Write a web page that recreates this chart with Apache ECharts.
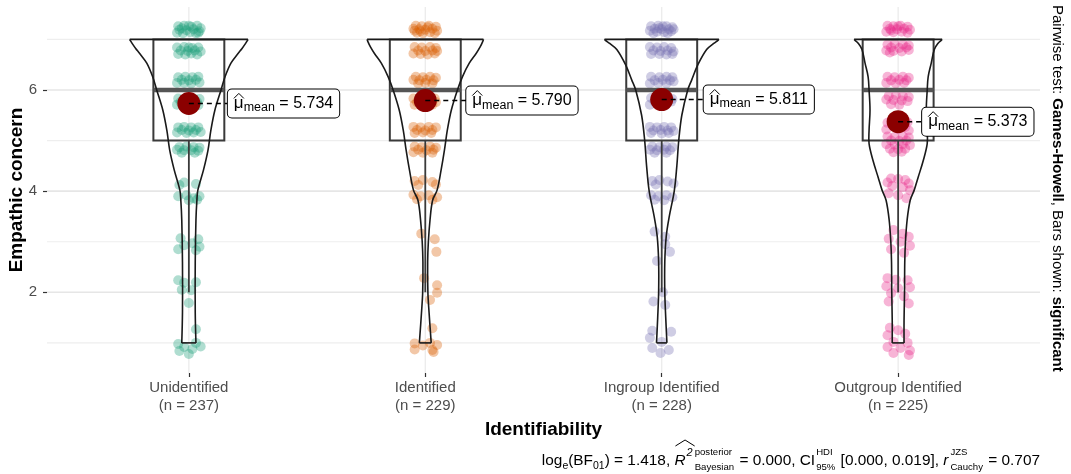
<!DOCTYPE html>
<html><head><meta charset="utf-8">
<script src="https://cdn.jsdelivr.net/npm/echarts@6/dist/echarts.min.js"></script>
<style>html,body{margin:0;padding:0;background:#fff}#c{width:1071px;height:474px}</style>
</head><body><div id="c"></div>
<script>
// ---------------- data ----------------
const categories = ['Unidentified', 'Identified', 'Ingroup Identified', 'Outgroup Identified'];
const sampleSizes = [237, 229, 228, 225];
const groupColors = ['#1B9E77', '#D95F02', '#7570B3', '#E7298A'];
const means = [5.734, 5.790, 5.811, 5.373];
const q1 = [5, 5, 5, 5];
const medians = [6, 6, 6, 6];
const q3 = [7, 7, 7, 7];
const whiskerLow = [2, 2, 2, 2];
const whiskerHigh = [7, 7, 7, 7];
const yTicks = [2, 4, 6];
const yMinorGrid = [1, 3, 5, 7];

// violin profiles: [value, half-width in category units], bottom -> top
const violinUnidentified = [[1.0,0.030],[1.6,0.027],[2.6,0.027],[3.43,0.030],[3.82,0.034],[4.02,0.038],[4.42,0.062],[4.81,0.081],[5.2,0.093],[5.6,0.110],[6.0,0.136],[6.26,0.153],[6.53,0.178],[6.72,0.208],[6.82,0.225],[6.92,0.240],[6.98,0.248],[7.0,0.250]];
const violinIdentified = [[1.0,0.025],[1.6,0.016],[2.0,0.011],[2.6,0.010],[3.0,0.013],[3.43,0.020],[3.82,0.031],[4.02,0.050],[4.42,0.067],[4.81,0.081],[5.2,0.093],[5.6,0.110],[6.0,0.136],[6.26,0.157],[6.53,0.186],[6.72,0.215],[6.85,0.232],[6.97,0.244],[7.0,0.246]];
const violinIngroup = [[1.0,0.022],[1.5,0.017],[2.0,0.013],[2.6,0.013],[3.1,0.019],[3.5,0.032],[4.0,0.053],[4.5,0.064],[5.0,0.072],[5.5,0.085],[6.0,0.110],[6.2,0.127],[6.5,0.153],[6.8,0.190],[6.92,0.220],[6.98,0.238],[7.0,0.242]];
const violinOutgroup = [[1.0,0.025],[1.45,0.025],[2.0,0.027],[2.6,0.028],[3.0,0.031],[3.43,0.038],[3.82,0.051],[4.02,0.068],[4.28,0.085],[4.6,0.106],[4.94,0.123],[5.2,0.123],[5.6,0.119],[6.0,0.123],[6.26,0.127],[6.53,0.140],[6.8,0.153],[6.93,0.170],[6.98,0.182],[7.0,0.186]];

// jittered points: [x offset from category (units), value]
const pointsUnidentified = [
 [-0.045,7.26],[-0.02,7.27],[0.01,7.25],[0.035,7.27],[0.05,7.22],[-0.04,7.19],[-0.01,7.18],[0.02,7.2],[0.045,7.16],[-0.05,7.13],[-0.025,7.12],[0.005,7.14],[0.03,7.12],[0.0,7.27],[-0.03,7.22],[0.04,7.13],
 [-0.05,6.84],[-0.02,6.85],[0.015,6.83],[0.04,6.84],[-0.035,6.78],[-0.005,6.77],[0.025,6.78],[0.05,6.76],[-0.045,6.71],[-0.015,6.70],[0.01,6.72],[0.035,6.70],[0.0,6.84],
 [-0.045,6.25],[-0.015,6.26],[0.015,6.25],[0.04,6.26],[-0.03,6.2],[0.0,6.19],[0.03,6.2],[-0.05,6.14],[-0.02,6.14],[0.01,6.13],[0.045,6.15],
 [-0.045,5.83],[-0.015,5.84],[0.02,5.83],[0.045,5.82],[-0.035,5.76],[0.035,5.76],[-0.05,5.71],[0.0,5.72],[0.04,5.7],
 [-0.045,5.26],[-0.02,5.27],[0.01,5.26],[0.04,5.26],[-0.03,5.21],[0.0,5.2],[0.03,5.21],[-0.05,5.16],[-0.01,5.15],[0.02,5.16],[0.05,5.17],
 [-0.04,4.87],[-0.01,4.88],[0.02,4.87],[0.045,4.86],[-0.05,4.82],[-0.02,4.81],[0.01,4.81],[0.04,4.8],[-0.03,4.76],[0.025,4.76],
 [-0.02,4.17],[0.03,4.14],[-0.04,4.12],
 [-0.045,3.9],[-0.01,3.92],[0.02,3.86],[0.045,3.9],[0.0,3.82],[0.035,3.83],
 [-0.035,3.07],[0.04,3.05],[0.015,2.97],[-0.02,2.93],[0.045,2.9],[-0.045,2.85],[0.03,2.83],
 [-0.045,2.24],[-0.02,2.19],[0.03,2.2],[-0.03,2.05],[0.01,2.04],
 [0.0,1.79],[0.03,1.27],
 [-0.045,0.98],[0.03,1.0],[0.05,0.93],[-0.02,0.92],[0.015,0.88],[-0.04,0.84],[0.0,0.78]
];
const pointsIdentified = [
 [-0.04,7.27],[-0.015,7.26],[0.015,7.27],[0.045,7.25],[-0.05,7.21],[-0.025,7.2],[0.0,7.19],[0.03,7.21],[0.05,7.17],[-0.035,7.13],[-0.01,7.12],[0.02,7.14],[0.04,7.12],[-0.045,7.17],[0.01,7.24],[-0.02,7.16],
 [-0.045,6.85],[-0.015,6.84],[0.02,6.85],[0.045,6.83],[-0.03,6.78],[0.0,6.77],[0.03,6.78],[-0.05,6.72],[-0.02,6.71],[0.01,6.7],[0.04,6.72],[0.05,6.77],
 [-0.04,6.26],[-0.01,6.25],[0.02,6.26],[0.045,6.24],[-0.05,6.2],[-0.025,6.19],[0.005,6.2],[0.035,6.19],[-0.03,6.13],[0.0,6.14],[0.03,6.13],
 [-0.05,5.83],[-0.02,5.84],[0.01,5.82],[0.04,5.83],[-0.035,5.76],[0.045,5.76],[-0.045,5.71],[0.0,5.7],[0.03,5.71],
 [-0.05,5.27],[-0.02,5.26],[0.015,5.27],[0.045,5.26],[-0.035,5.21],[0.0,5.2],[0.03,5.21],[-0.045,5.15],[-0.01,5.16],[0.025,5.15],
 [-0.045,4.88],[-0.015,4.87],[0.02,4.88],[0.045,4.86],[-0.03,4.82],[0.005,4.81],[0.035,4.82],[-0.05,4.77],[-0.01,4.76],[0.03,4.76],
 [-0.045,4.2],[-0.01,4.22],[0.03,4.18],[-0.03,4.12],[0.045,4.13],
 [-0.05,3.93],[-0.02,3.9],[0.015,3.92],[0.05,3.88],[-0.035,3.84],[0.03,3.83],
 [-0.017,3.16],[0.04,3.05],[0.047,2.8],
 [-0.005,2.28],[0.05,2.14],[0.05,1.99],[0.02,1.85],
 [0.03,1.29],
 [-0.045,0.99],[-0.045,0.87],[-0.01,0.95],[0.02,1.0],[0.03,0.86],[0.05,0.96],[0.035,0.82]
];
const pointsIngroup = [
 [-0.045,7.26],[-0.015,7.27],[0.02,7.26],[0.045,7.24],[-0.03,7.21],[0.0,7.2],[0.03,7.2],[-0.05,7.17],[-0.02,7.15],[0.01,7.14],[0.04,7.16],[-0.035,7.12],[0.025,7.12],[0.005,7.26],[0.05,7.2],[-0.01,7.22],
 [-0.05,6.85],[-0.02,6.84],[0.01,6.85],[0.04,6.83],[-0.035,6.78],[-0.005,6.77],[0.025,6.78],[0.05,6.76],[-0.045,6.71],[-0.01,6.71],[0.02,6.7],[0.045,6.71],
 [-0.045,6.26],[-0.01,6.25],[0.02,6.26],[0.045,6.25],[-0.03,6.19],[0.005,6.2],[0.035,6.19],[-0.05,6.13],[-0.015,6.14],[0.02,6.13],[0.05,6.17],
 [-0.045,5.84],[-0.015,5.83],[0.02,5.84],[0.045,5.82],[-0.03,5.77],[0.04,5.77],[-0.05,5.71],[0.015,5.71],
 [-0.05,5.27],[-0.02,5.26],[0.01,5.27],[0.04,5.26],[-0.035,5.2],[-0.005,5.21],[0.025,5.2],[0.05,5.19],[-0.045,5.15],[0.0,5.14],[0.03,5.15],
 [-0.04,4.88],[-0.01,4.87],[0.02,4.88],[0.045,4.87],[-0.05,4.82],[-0.02,4.81],[0.01,4.82],[0.035,4.81],[-0.03,4.76],[0.02,4.76],
 [-0.04,4.2],[-0.01,4.22],[0.025,4.19],[0.05,4.15],[-0.025,4.13],
 [-0.045,3.92],[-0.015,3.9],[0.02,3.92],[0.045,3.88],[-0.03,3.83],[0.01,3.82],
 [-0.03,3.2],[0.015,3.1],[0.015,2.95],[0.035,2.8],[-0.02,2.62],
 [0.005,2.0],[-0.035,1.82],[0.015,1.75],
 [-0.04,1.24],[0.04,1.22],
 [-0.05,1.1],[0.0,1.02],[-0.04,0.9],[-0.005,0.8],[0.03,0.86]
];
const pointsOutgroup = [
 [-0.045,7.27],[-0.02,7.26],[0.01,7.27],[0.04,7.25],[-0.035,7.21],[-0.005,7.2],[0.025,7.21],[0.05,7.19],[-0.05,7.15],[-0.02,7.14],[0.015,7.15],[0.04,7.13],[0.0,7.26],[-0.03,7.18],
 [-0.045,6.9],[-0.015,6.91],[0.02,6.9],[0.045,6.88],[-0.03,6.84],[0.005,6.83],[0.035,6.84],[-0.05,6.78],[-0.02,6.77],[0.015,6.76],[0.045,6.79],[-0.035,6.74],
 [-0.045,6.26],[-0.015,6.25],[0.02,6.26],[0.045,6.24],[-0.03,6.19],[0.005,6.2],[0.035,6.19],[-0.05,6.14],[-0.01,6.13],[0.025,6.14],
 [-0.04,5.88],[-0.01,5.89],[0.02,5.88],[0.045,5.86],[-0.05,5.81],[-0.02,5.8],[0.015,5.79],[0.04,5.78],[-0.03,5.72],[0.005,5.71],
 [-0.045,5.35],[0.04,5.36],[-0.02,5.28],[0.03,5.27],[-0.05,5.22],[0.0,5.23],[0.045,5.2],
 [-0.045,5.08],[-0.015,5.07],[0.02,5.08],[0.045,5.06],[-0.03,5.0],[0.005,4.99],[0.035,5.0],[-0.05,4.93],[-0.015,4.92],[0.02,4.93],[0.05,4.91],[-0.035,4.84],[0.0,4.83],[0.03,4.84],[-0.02,4.77],[0.015,4.78],
 [-0.03,4.25],[0.0,4.24],[0.03,4.22],[-0.045,4.17],[0.045,4.15],
 [-0.025,4.1],[0.02,4.08],[0.05,4.02],[-0.04,3.96],[0.0,3.92],[0.035,3.86],
 [-0.02,3.23],[0.02,3.16],[0.045,3.1],[-0.04,3.06],[0.01,3.0],[0.05,2.92],[-0.03,2.85],[0.025,2.78],
 [-0.045,2.28],[-0.01,2.25],[0.04,2.24],[-0.05,2.12],[0.0,2.08],[0.05,2.1],[-0.03,1.98],[0.025,1.92],[-0.04,1.82],[0.045,1.78],
 [-0.035,1.3],[0.0,1.25],[-0.045,1.15],[0.03,1.18],[-0.02,1.02],[0.04,1.0],[-0.045,0.92],[0.01,0.9],[0.05,0.85],[-0.02,0.8],[0.045,0.76]
];

const violins = [violinUnidentified, violinIdentified, violinIngroup, violinOutgroup];
const pointGroups = [pointsUnidentified, pointsIdentified, pointsIngroup, pointsOutgroup];

// ---------------- layout / style ----------------
const FONT = '"Liberation Sans", Arial, Helvetica, sans-serif';
const labelOffsetX = [39, 41, 42, 24];
const BOX_HALF = 0.15;
const catPos = categories.map((c, i) => i + 1);

const chart = echarts.init(document.getElementById('c'), null, {renderer: 'canvas'});

const series = [];
// grid lines
series.push({
  type: 'custom', z: 0, silent: true,
  data: yTicks.map(v => [v, 1]).concat(yMinorGrid.map(v => [v, 0])),
  renderItem: (params, api) => {
    const cs = params.coordSys;
    const y = api.coord([1, api.value(0)])[1];
    const major = api.value(1) === 1;
    return {type: 'line', shape: {x1: cs.x, y1: y, x2: cs.x + cs.width, y2: y},
      style: {stroke: major ? '#E6E6E6' : '#EEEEEE', lineWidth: major ? 1.6 : 1.2}};
  }
});
series.push({
  type: 'custom', z: 0, silent: true,
  data: catPos.map(p => [p, 1]),
  renderItem: (params, api) => {
    const cs = params.coordSys;
    const x = api.coord([api.value(0), 1])[0];
    return {type: 'line', shape: {x1: x, y1: cs.y, x2: x, y2: cs.y + cs.height},
      style: {stroke: '#EBEBEB', lineWidth: 1.3}};
  }
});
// jitter points
pointGroups.forEach((pts, i) => {
  series.push({
    type: 'scatter', z: 2, silent: true,
    symbolSize: 10,
    itemStyle: {color: groupColors[i], opacity: 0.35},
    data: pts.map(p => [catPos[i] + p[0], p[1]])
  });
});
// boxes
series.push({
  type: 'custom', z: 3, silent: true,
  data: catPos.map(p => [p, 1]),
  renderItem: (params, api) => {
    const i = params.dataIndex;
    const cx = catPos[i];
    const tl = api.coord([cx - BOX_HALF, q3[i]]);
    const br = api.coord([cx + BOX_HALF, q1[i]]);
    const ml = api.coord([cx - BOX_HALF, medians[i]]);
    const mr = api.coord([cx + BOX_HALF, medians[i]]);
    const w1 = api.coord([cx, q1[i]]), w2 = api.coord([cx, whiskerLow[i]]);
    const w3 = api.coord([cx, q3[i]]), w4 = api.coord([cx, whiskerHigh[i]]);
    return {type: 'group', children: [
      {type: 'line', shape: {x1: w1[0], y1: w1[1], x2: w2[0], y2: w2[1]}, style: {stroke: '#3a3a3a', lineWidth: 1.8}},
      {type: 'line', shape: {x1: w3[0], y1: w3[1], x2: w4[0], y2: w4[1]}, style: {stroke: '#3a3a3a', lineWidth: 1.8}},
      {type: 'rect', shape: {x: tl[0], y: tl[1], width: br[0] - tl[0], height: br[1] - tl[1]},
        style: {fill: 'none', stroke: '#3a3a3a', lineWidth: 2}},
      {type: 'line', shape: {x1: ml[0], y1: ml[1], x2: mr[0], y2: mr[1]}, style: {stroke: '#555555', lineWidth: 4.5}}
    ]};
  }
});
// violins
series.push({
  type: 'custom', z: 4, silent: true,
  data: catPos.map(p => [p, 1]),
  renderItem: (params, api) => {
    const i = params.dataIndex;
    const cx = catPos[i];
    const prof = violins[i];
    const right = prof.map(([v, hw]) => api.coord([cx + hw, v]));
    const left = prof.map(([v, hw]) => api.coord([cx - hw, v]));
    const st = {fill: 'none', stroke: '#1a1a1a', lineWidth: 1.6};
    const top = prof.length - 1;
    return {type: 'group', children: [
      {type: 'polyline', shape: {points: right, smooth: 0.35}, style: st},
      {type: 'polyline', shape: {points: left, smooth: 0.35}, style: st},
      {type: 'line', shape: {x1: left[top][0], y1: left[top][1], x2: right[top][0], y2: right[top][1]}, style: st},
      {type: 'line', shape: {x1: left[0][0], y1: left[0][1], x2: right[0][0], y2: right[0][1]}, style: st}
    ]};
  }
});
// means
series.push({
  type: 'scatter', z: 5, silent: true, symbolSize: 23,
  itemStyle: {color: '#8B0000', opacity: 1},
  data: means.map((m, i) => [catPos[i], m])
});
// mean labels
series.push({
  type: 'custom', z: 6, silent: true,
  data: means.map((m, i) => [catPos[i], m]),
  renderItem: (params, api) => {
    const i = params.dataIndex;
    const p = api.coord([api.value(0), api.value(1)]);
    const bx = p[0] + labelOffsetX[i];
    return {type: 'group', children: [
      {type: 'line', shape: {x1: p[0], y1: p[1], x2: bx, y2: p[1]},
        style: {stroke: '#000', lineWidth: 1.5, lineDash: [5, 4]}},
      {type: 'text', x: bx, y: p[1], style: {
        text: '{mu|\u03BC}{sub|mean}{eq| = ' + means[i].toFixed(3) + '}',
        rich: {
          mu: {fontSize: 17, fontFamily: FONT, fill: '#000', lineHeight: 22},
          sub: {fontSize: 12.5, fontFamily: FONT, fill: '#000', lineHeight: 14, verticalAlign: 'bottom'},
          eq: {fontSize: 16, fontFamily: FONT, fill: '#000', lineHeight: 22}
        },
        align: 'left', verticalAlign: 'middle',
        backgroundColor: '#fff', borderColor: '#000', borderWidth: 1, borderRadius: 4,
        padding: [3, 6, 3, 6]
      }},
      {type: 'polyline', shape: {points: [[bx + 6, p[1] - 5], [bx + 11, p[1] - 10], [bx + 16, p[1] - 5]]},
        style: {stroke: '#000', lineWidth: 1, fill: 'none'}}
    ]};
  }
});

// ---------- caption (subtitle) ----------
const capPieces = [
  {t: 'log', s: 15.4},
  {t: 'e', s: 10.5, dy: 5},
  {t: '(BF', s: 15.4},
  {t: '01', s: 10.5, dy: 5},
  {t: ') = 1.418, ', s: 15.4},
  {t: 'R', s: 15.4, it: true, hatStart: true},
  {t: '2', s: 11, dy: -8, it: true, hatEnd: true},
  {stack: ['posterior', 'Bayesian'], s: 9.6},
  {t: ' = 0.000, CI', s: 15.4},
  {stack: ['HDI', '95%'], s: 9.6},
  {t: ' [0.000, 0.019], ', s: 15.4},
  {t: 'r', s: 15.4, it: true},
  {stack: ['JZS', 'Cauchy'], s: 9.6},
  {t: ' = 0.707', s: 15.4}
];
const CAP_Y = 461, CAP_RIGHT = 1040;
const mctx = document.createElement('canvas').getContext('2d');
function fontStr(s, it) { return (it ? 'italic ' : '') + s + 'px ' + FONT; }
function measure(t, s, it) { mctx.font = fontStr(s, it); return mctx.measureText(t).width; }
const pieceW = capPieces.map(p => p.stack ? Math.max(measure(p.stack[0], p.s), measure(p.stack[1], p.s)) + 2 : measure(p.t, p.s, p.it) + (p.it ? 1 : 0));
let cx0 = CAP_RIGHT - pieceW.reduce((a, b) => a + b, 0);
const graphics = [];
let hatX0 = 0, hatX1 = 0;
capPieces.forEach((p, k) => {
  if (p.stack) {
    graphics.push({type: 'text', x: cx0 + 1, y: CAP_Y - 9, style: {text: p.stack[0], font: fontStr(p.s), fill: '#000', align: 'left', verticalAlign: 'middle'}});
    graphics.push({type: 'text', x: cx0 + 1, y: CAP_Y + 6, style: {text: p.stack[1], font: fontStr(p.s), fill: '#000', align: 'left', verticalAlign: 'middle'}});
  } else {
    graphics.push({type: 'text', x: cx0, y: CAP_Y + (p.dy || 0), style: {text: p.t, font: fontStr(p.s, p.it), fill: '#000', align: 'left', verticalAlign: 'middle'}});
  }
  if (p.hatStart) hatX0 = cx0;
  if (p.hatEnd) hatX1 = cx0 + pieceW[k];
  cx0 += pieceW[k];
});
graphics.push({type: 'polyline', shape: {points: [[hatX0 + 1, CAP_Y - 15], [(hatX0 + hatX1) / 2 + 1, CAP_Y - 21], [hatX1 + 1, CAP_Y - 15]]},
  style: {stroke: '#000', lineWidth: 1, fill: 'none'}});
// right-side pairwise text
graphics.push({type: 'text', x: 1057, y: 5, rotation: -Math.PI / 2, style: {
  text: '{r|Pairwise test: }{b|Games-Howell}{r|, Bars shown: }{b|significant}',
  rich: {r: {fontSize: 15, fontFamily: FONT, fill: '#000'}, b: {fontSize: 15, fontFamily: FONT, fontWeight: 'bold', fill: '#000'}},
  align: 'left', verticalAlign: 'middle'}});
// y-axis title
graphics.push({type: 'text', x: 17, y: 190, rotation: Math.PI / 2, style: {
  text: 'Empathic concern', font: 'bold 19px ' + FONT, fill: '#000', align: 'center', verticalAlign: 'middle'}});

chart.setOption({
  animation: false,
  backgroundColor: '#fff',
  grid: {left: 47, right: 31, top: 7, bottom: 101, containLabel: false, outerBoundsMode: 'none'},
  xAxis: {
    type: 'value', min: 0.4, max: 4.6,
    axisLine: {show: false, onZero: false},
    splitLine: {show: false},
    axisTick: {show: true, customValues: catPos, length: 4, lineStyle: {color: '#333', width: 1.2}},
    axisLabel: {customValues: catPos, color: '#4D4D4D', fontSize: 15, lineHeight: 18, margin: 6, fontFamily: FONT,
      formatter: v => { const i = Math.round(v) - 1; return categories[i] + '\n(n = ' + sampleSizes[i] + ')'; }},
    name: 'Identifiability', nameLocation: 'middle', nameGap: 44,
    nameTextStyle: {fontSize: 19, fontWeight: 'bold', color: '#000', fontFamily: FONT}
  },
  yAxis: {
    type: 'value', min: 0.405, max: 7.64,
    axisLine: {show: false, onZero: false},
    splitLine: {show: false},
    axisTick: {show: true, customValues: yTicks, length: 4, lineStyle: {color: '#333', width: 1.2}},
    axisLabel: {customValues: yTicks, color: '#4D4D4D', fontSize: 15, margin: 10, fontFamily: FONT}
  },
  series: series,
  graphic: {elements: graphics}
});
</script>
</body></html>
